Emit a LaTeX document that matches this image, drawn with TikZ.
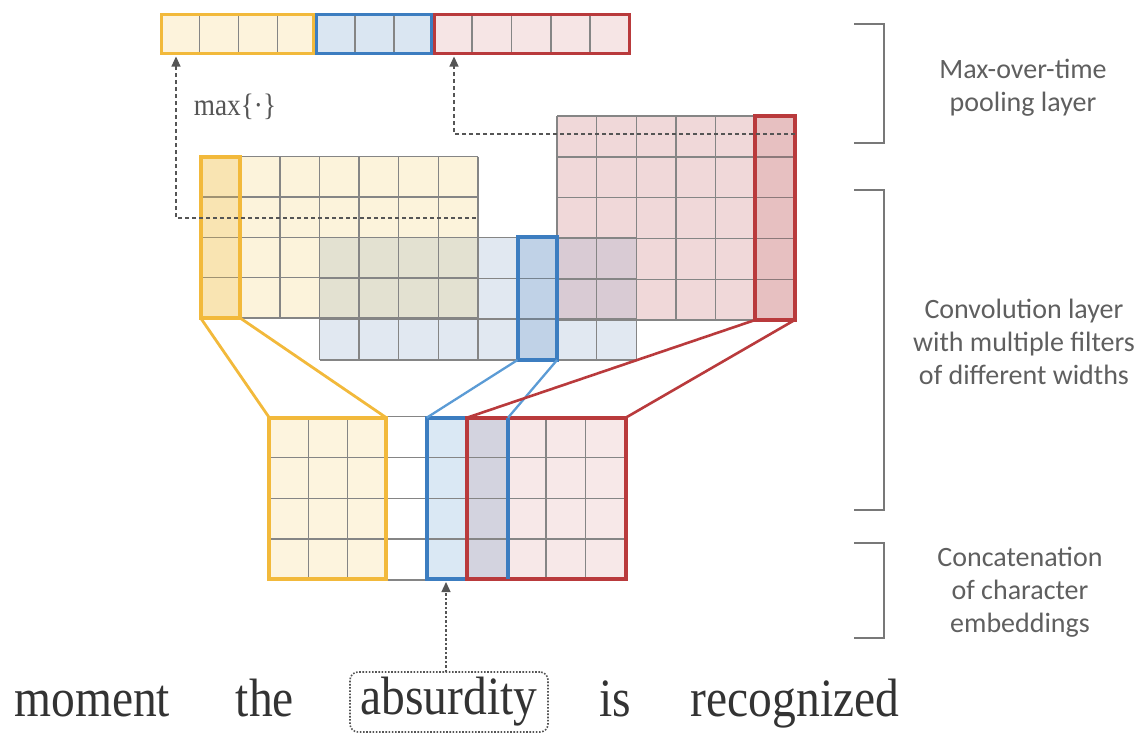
\documentclass[tikz,border=0pt]{standalone}
\usepackage{fontspec}
\setmainfont{Liberation Serif}
\newfontfamily\labfont{Carlito}
\usetikzlibrary{arrows.meta}
\definecolor{ystroke}{HTML}{F2B93B}
\definecolor{bstroke}{HTML}{3C7DC0}
\definecolor{bline}{HTML}{5B9BD5}
\definecolor{rstroke}{HTML}{B93A3C}
\definecolor{yfill}{HTML}{FCF3DB}
\definecolor{bfill}{HTML}{E1E8F1}
\definecolor{rfill}{HTML}{F0D8D9}
\definecolor{ybover}{HTML}{E3E1D1}
\definecolor{brover}{HTML}{D9CBD4}
\definecolor{ypool}{HTML}{FDF3DC}
\definecolor{bpool}{HTML}{DAE6F2}
\definecolor{rpool}{HTML}{F6E5E5}
\definecolor{yemb}{HTML}{FDF4DE}
\definecolor{bemb}{HTML}{DAE8F4}
\definecolor{remb}{HTML}{F7E8E8}
\definecolor{oemb}{HTML}{D3D3DF}
\definecolor{gridgray}{HTML}{858585}
\definecolor{arrowgray}{HTML}{555555}
\definecolor{labgray}{HTML}{5F5F5F}
\definecolor{wordcol}{HTML}{333333}
\begin{document}
\begin{tikzpicture}[x=1pt,y=-1pt,
  gridline/.style={draw=gridgray, line width=1.4pt},
  boxnode/.style={rectangle, inner sep=0pt, outer sep=0pt},
  poolbox/.style={boxnode, line width=3.5pt, minimum height=39pt},
  filtbox/.style={boxnode, line width=4pt, minimum width=39.6pt},
  embbox/.style={boxnode, line width=4pt, minimum height=161.3pt},
  dasharrow/.style={draw=arrowgray, line width=1.1pt, dash pattern=on 4pt off 3pt,
    -{Triangle[length=10pt,width=9pt]}, shorten >=3pt},
  dotarrow/.style={draw=arrowgray, line width=1.3pt, dash pattern=on 2.5pt off 2pt,
    -{Triangle[length=10pt,width=9pt]}, shorten >=3pt},
  bracketline/.style={draw=gridgray!90!black, line width=1.5pt},
  layerlabel/.style={font=\labfont\fontsize{28}{33}\selectfont, text=labgray, align=center},
  word/.style={text=wordcol, anchor=base, inner sep=0pt},
  wordfont/.style={}
]
\useasboundingbox (0,0) rectangle (1143,734);

% ---------------- convolution layer: fills ----------------
\fill[yfill] (200.7,156.5) rectangle (477.9,318.1);
\fill[bfill] (319.5,237.3) rectangle (636.3,360);
\fill[rfill] (557.1,116) rectangle (794.7,320);
\fill[ybover] (319.5,237.3) rectangle (477.9,318.1);
\fill[brover] (557.1,237.3) rectangle (636.3,320);

% grid lines
\foreach \i in {0,...,7} \draw[gridline] ({200.7+\i*39.6},156.5) -- ({200.7+\i*39.6},318.1);
\foreach \j in {0,...,4} \draw[gridline] (200.7,{156.5+\j*40.4}) -- (477.9,{156.5+\j*40.4});
\foreach \i in {0,...,8} \draw[gridline] ({319.5+\i*39.6},237.3) -- ({319.5+\i*39.6},360);
\foreach \j in {0,...,3} \draw[gridline] (319.5,{237.3+\j*40.9}) -- (636.3,{237.3+\j*40.9});
\foreach \i in {0,...,6} \draw[gridline] ({557.1+\i*39.6},116) -- ({557.1+\i*39.6},320);
\foreach \j in {0,...,5} \draw[gridline] (557.1,{116+\j*40.8}) -- (794.7,{116+\j*40.8});

% filter columns
\node[filtbox, draw=ystroke, fill=ystroke, fill opacity=0.25, draw opacity=1, minimum height=161.6pt, anchor=north west] (fY) at (200.7,156.5) {};
\node[filtbox, draw=bstroke, fill=bstroke, fill opacity=0.2, draw opacity=1, minimum height=122.7pt, anchor=north west] (fB) at (517.5,237.3) {};
\node[filtbox, draw=rstroke, fill=rstroke, fill opacity=0.15, draw opacity=1, minimum height=204pt, anchor=north west] (fR) at (755.1,116) {};

% ---------------- pooling layer ----------------
\node[poolbox, draw=ystroke, fill=ypool, minimum width=152pt] (poolY) at (237.5,34) {};
\node[poolbox, draw=bstroke, fill=bpool, minimum width=114.8pt] (poolB) at (373.9,34) {};
\node[poolbox, draw=rstroke, fill=rpool, minimum width=195.2pt] (poolR) at (531.9,34) {};
\foreach \x in {199.5,238.5,277.5,355,394,472,511.7,551,590}
  \draw[gridline] (\x,16) -- (\x,52);

\node[text=arrowgray, inner sep=0pt] (maxlab) at (235,107)
  {\scalebox{0.88}[1]{\fontsize{31}{32}\selectfont max\{·\}}};

% ---------------- embeddings ----------------
\fill[yemb] (269.3,417.7) rectangle (386.3,579);
\fill[bemb] (426.7,417.7) rectangle (508,579);
\fill[remb] (467,417.7) rectangle (625.7,579);
\fill[oemb] (467,417.7) rectangle (508,579);
\foreach \x in {308.3,347.7,546,585.7}
  \draw[gridline] (\x,417.7) -- (\x,579);
\foreach \y in {457.5,498.3,539.1}
  \draw[gridline] (269.3,\y) -- (625.7,\y);
\draw[gridline] (386.3,416.7) -- (426.7,416.7);
\draw[gridline] (386.3,580) -- (426.7,580);

\node[embbox, draw=ystroke, minimum width=117pt] (eY) at (327.8,498.35) {};
\node[embbox, draw=bstroke, minimum width=81.3pt] (eB) at (467.35,498.35) {};
\node[embbox, draw=rstroke, minimum width=158.7pt] (eR) at (546.35,498.35) {};
\draw[bstroke, line width=4pt] (eB.north east) -- (eB.south east);

% ---------------- connectors ----------------
\draw[ystroke, line width=2.8pt] (fY.south west) -- (eY.north west);
\draw[ystroke, line width=2.8pt] (fY.south east) -- (eY.north east);
\draw[bline, line width=2.3pt] (fB.south west) -- (eB.north west);
\draw[bline, line width=2.3pt] (fB.south east) -- (eB.north east);
\draw[rstroke, line width=2.6pt] (fR.south west) -- (eR.north west);
\draw[rstroke, line width=2.6pt] (fR.south east) -- (eR.north east);

% dashed max-pooling arrows
\coordinate (yTail) at (476,218);
\coordinate (rTail) at (795,134);
\draw[dasharrow] (yTail) -| ([xshift=14.5pt]poolY.south west);
\draw[dasharrow] (rTail) -| ([xshift=19.7pt]poolR.south west);

% ---------------- words ----------------
\node[word] (w1) at (92.2,716.7) {\scalebox{0.88}[1]{\fontsize{54}{58}\selectfont moment}};
\node[word] (w2) at (265,716.7) {\scalebox{0.88}[1]{\fontsize{54}{58}\selectfont the}};
\node[boxnode, draw=arrowgray, line width=1.6pt, dash pattern=on 1.6pt off 1.6pt,
  rounded corners=8pt, minimum width=198pt, minimum height=60pt, text=wordcol] (wabs) at (449,702)
  {\scalebox{0.88}[1]{\fontsize{54}{58}\selectfont absurdity}};
\node[word] (w4) at (615,716.7) {\scalebox{0.88}[1]{\fontsize{54}{58}\selectfont is}};
\node[word] (w5) at (795,716.7) {\scalebox{0.88}[1]{\fontsize{54}{58}\selectfont recognized}};
\draw[dotarrow] ([xshift=-3pt]wabs.north) -- ([xshift=-3pt]wabs.north |- eB.south);

% ---------------- brackets and labels ----------------
\draw[bracketline] (854,24) -- (884,24) -- (884,143) -- (854,143);
\draw[bracketline] (854,190) -- (884,190) -- (884,510) -- (854,510);
\draw[bracketline] (854,543) -- (884,543) -- (884,638) -- (854,638);
\node[layerlabel] (lpool) at (1023,88) {Max-over-time\\pooling layer};
\node[layerlabel] (lconv) at (1024,342) {Convolution layer\\with multiple filters\\of different widths};
\node[layerlabel] (lcat) at (1020,592) {Concatenation\\of character\\embeddings};
\end{tikzpicture}
\end{document}
